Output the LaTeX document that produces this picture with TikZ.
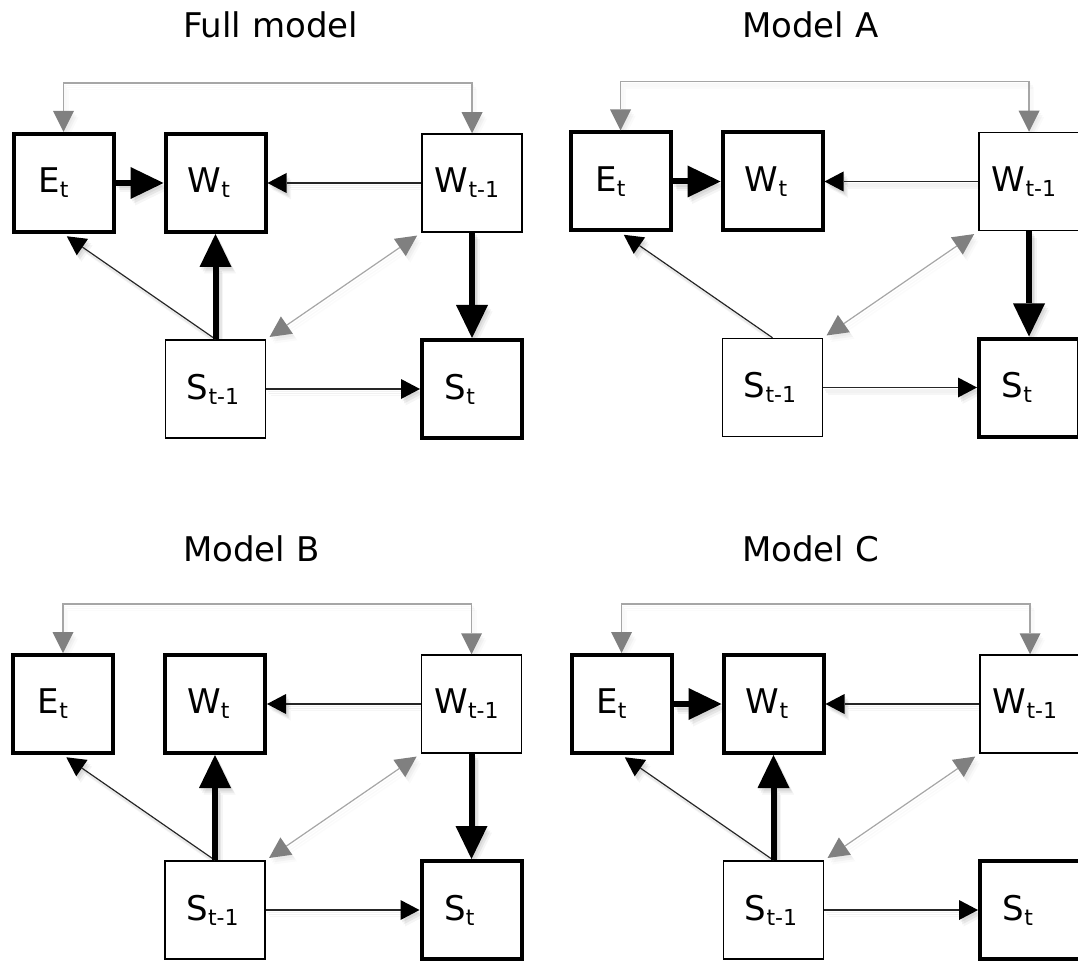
\documentclass[tikz,border=0pt]{standalone}
\usepackage{fontspec}
\setmainfont{DejaVu Sans}
\usetikzlibrary{arrows.meta,calc}
\pgfdeclarelayer{bg}
\pgfdeclarelayer{shadow}
\pgfsetlayers{bg,shadow,main}
\newcommand\lab[2]{#1\raisebox{-5pt}{\fontsize{22}{22}\selectfont #2}}
\newcommand\commonarrows[1]{%
  \draw[greyarrow] (#1-E.north) -- ++(0,-49) -| (#1-Wp.north);
  \draw[smallarrow] (#1-Wp.west) -- (#1-W.east);
  \draw[smallarrow, shorten >=4pt] (#1-Sp.north) -- (#1-E.south);
  \draw[greyarrow, shorten <=5pt, shorten >=4pt] (#1-Wp.south west) -- (#1-Sp.north east);
  \draw[smallarrow] (#1-Sp.east) -- (#1-St.west);
}
\newcommand\allarrows{%
  % Full model
  \commonarrows{full}
  \draw[bigarrow] (full-E.east) -- (full-W.west);
  \draw[bigarrow] (full-Sp.north) -- (full-W.south);
  \draw[bigarrow] (full-Wp.south) -- (full-St.north);
  % Model A
  \commonarrows{ma}
  \draw[bigarrow] (ma-E.east) -- (ma-W.west);
  \draw[bigarrow] (ma-Wp.south) -- (ma-St.north);
  % Model B
  \commonarrows{mb}
  \draw[bigarrow] (mb-Sp.north) -- (mb-W.south);
  \draw[bigarrow] (mb-Wp.south) -- (mb-St.north);
  % Model C
  \commonarrows{mc}
  \draw[bigarrow] (mc-E.east) -- (mc-W.west);
  \draw[bigarrow] (mc-Sp.north) -- (mc-W.south);
}
\tikzset{
  box/.style={draw=black, fill=white, minimum width=100pt, minimum height=98pt,
    inner sep=0pt, font=\fontsize{34}{34}\selectfont},
  thickbox/.style={box, line width=4pt},
  thinbox/.style={box, line width=1.5pt},
  bigarrow/.style={line width=6pt, draw=black,
    -{Triangle[length=33pt,width=32pt,line width=0pt,color=black]}},
  smallarrow/.style={line width=1.2pt, draw=black!85,
    -{Triangle[length=19pt,width=20pt,line width=0pt,color=black]}},
  greyarrow/.style={line width=1.2pt, draw=black!35,
    {Triangle[length=21pt,width=21pt,line width=0pt,color=black!50]}-{Triangle[length=21pt,width=21pt,line width=0pt,color=black!50]}},
  title/.style={anchor=base west, inner sep=0pt, font=\fontsize{34}{34}\selectfont},
  panel/.pic={
    \node[thickbox] (-E)  at (63.5,183)  {\lab{E}{t}\kern20pt};
    \node[thickbox] (-W)  at (215.5,183) {\lab{W}{t}\kern13pt};
    \node[thinbox]  (-Wp) at (472,183)   {\lab{W}{t-1}\kern10pt};
    \node[thinbox]  (-Sp) at (215.5,389) {\lab{S}{t-1}\kern5pt};
    \node[thickbox] (-St) at (472,389)   {\lab{S}{t}\kern24pt};
  }
}
\begin{document}
\begin{tikzpicture}[x=1pt,y=-1pt]
  \useasboundingbox (0,0) rectangle (1078,965);
  \begin{pgfonlayer}{bg}
    \fill[white] (0,0) rectangle (1078,965);
  \end{pgfonlayer}
  \clip (0,0) rectangle (1078,965);

  \node[title] (tfull) at (183,38)  {Full model};
  \node[title] (tA)    at (742,38)  {Model A};
  \node[title] (tB)    at (183,561) {Model B};
  \node[title] (tC)    at (742,561) {Model C};

  \pic (full) at (0,0)       {panel};
  \pic (ma)   at (557,-1.5)  {panel};
  \pic (mb)   at (-0.5,521)  {panel};
  \pic (mc)   at (558,521)   {panel};

  % soft drop shadows behind the connectors
  \begin{pgfonlayer}{shadow}
    \begin{scope}[transform canvas={shift={(1.5pt,-2.5pt)}}, opacity=0.06]
      \allarrows
    \end{scope}
    \begin{scope}[transform canvas={shift={(3pt,-4.5pt)}}, opacity=0.06]
      \allarrows
    \end{scope}
    \begin{scope}[transform canvas={shift={(4.5pt,-6.5pt)}}, opacity=0.04]
      \allarrows
    \end{scope}
  \end{pgfonlayer}

  \allarrows
\end{tikzpicture}
\end{document}
